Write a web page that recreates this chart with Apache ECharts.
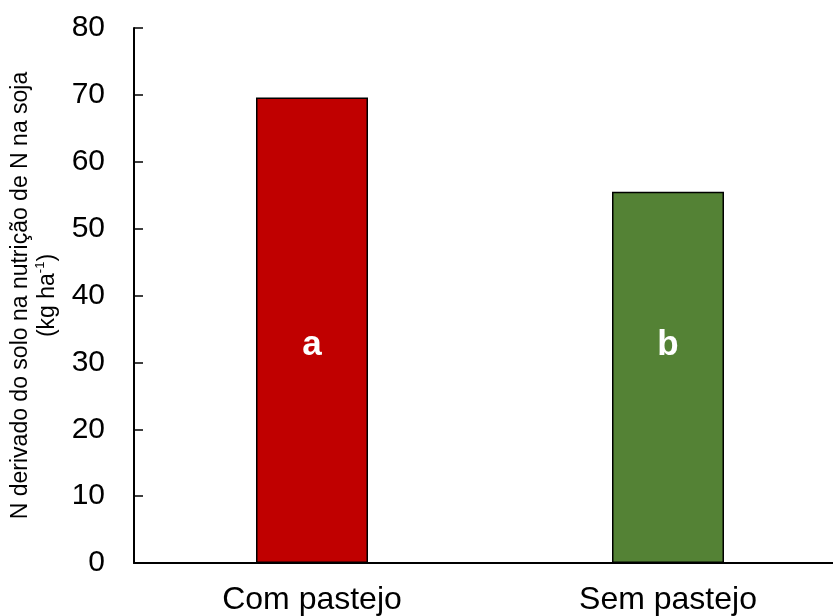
<!DOCTYPE html>
<html>
<head>
<meta charset="utf-8">
<script src="https://cdn.jsdelivr.net/npm/echarts@6/dist/echarts.min.js"></script>
<style>
  html, body { margin: 0; padding: 0; background: #fff; }
  #chart { width: 833px; height: 616px; }
</style>
</head>
<body>
<div id="chart"></div>
<script>
// dados
var categories = ['Com pastejo', 'Sem pastejo'];
var values = [69.6, 55.5];
var letters = ['a', 'b'];
var barColors = ['#C00000', '#548235'];

var font = 'Arial, "Liberation Sans", sans-serif';

var chart = echarts.init(document.getElementById('chart'));

var option = {
  backgroundColor: '#fff',
  animation: false,
  grid: {
    left: 134,
    top: 28,
    bottom: 53,
    width: 712,
    containLabel: false,
    outerBoundsMode: 'none'
  },
  xAxis: {
    type: 'category',
    data: categories,
    axisLine: { lineStyle: { color: '#000', width: 2 } },
    axisTick: { show: false },
    axisLabel: {
      color: '#000',
      fontSize: 32,
      fontFamily: font,
      margin: 21
    }
  },
  yAxis: {
    type: 'value',
    min: 0,
    max: 80,
    interval: 10,
    name: 'N derivado do solo na nutrição de N na soja\n(kg ha{sup|-1})',
    nameLocation: 'middle',
    nameGap: 70,
    nameTextStyle: {
      color: '#000',
      fontSize: 23,
      fontFamily: font,
      lineHeight: 27,
      rich: {
        sup: { fontSize: 13, verticalAlign: 'top', fontFamily: font, color: '#000', lineHeight: 18 }
      }
    },
    axisLine: { show: true, lineStyle: { color: '#000', width: 2 } },
    axisTick: { show: true, inside: true, length: 9, lineStyle: { color: '#000', width: 1.5 } },
    splitLine: { show: false },
    axisLabel: {
      color: '#000',
      fontSize: 30,
      fontFamily: font,
      margin: 29
    }
  },
  series: [
    {
      type: 'bar',
      barWidth: 112,
      data: values.map(function (v, i) {
        return {
          value: v,
          itemStyle: { color: barColors[i], borderColor: '#000', borderWidth: 1.5 },
          label: { formatter: letters[i] }
        };
      }),
      label: {
        show: true,
        position: 'insideBottom',
        distance: 200,
        color: '#fff',
        fontSize: 35,
        fontWeight: 'bold',
        fontFamily: font
      }
    }
  ]
};

chart.setOption(option);
</script>
</body>
</html>
